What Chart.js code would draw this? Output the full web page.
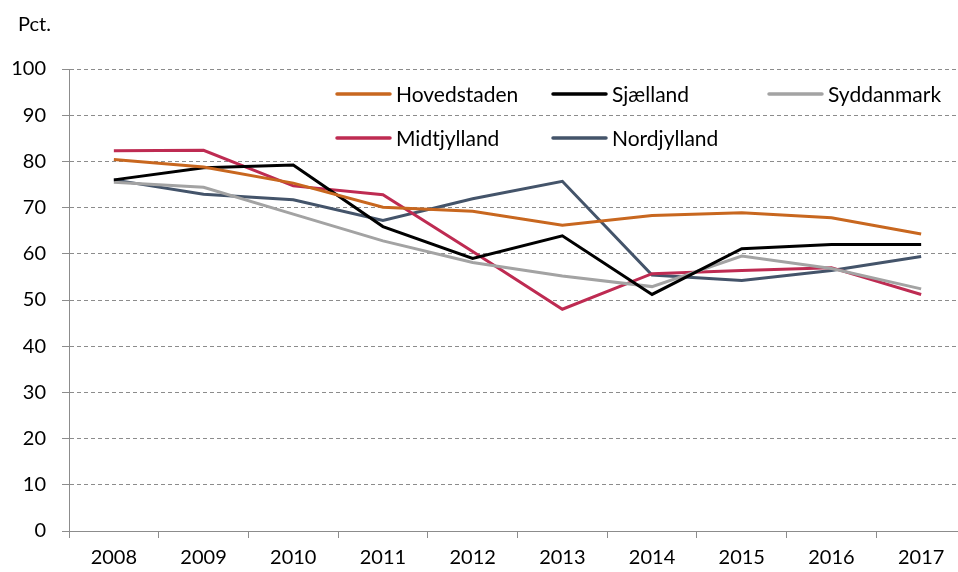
<!DOCTYPE html>
<html>
<head>
<meta charset="utf-8">
<script src="https://cdn.jsdelivr.net/npm/chart.js@4/dist/chart.umd.min.js"></script>
<style>
	html, body { margin: 0; padding: 0; background: #fff; overflow: hidden; }
	#wrap { width: 968px; height: 572px; }
</style>
</head>
<body>
<div id="wrap"><canvas id="c" width="968" height="572"></canvas></div>
<script>
// data
const years = ['2008','2009','2010','2011','2012','2013','2014','2015','2016','2017'];
const hovedstaden = [80.4, 78.8, 75.3, 70.1, 69.2, 66.2, 68.3, 68.9, 67.8, 64.3];
const sjaelland   = [76.0, 78.6, 79.2, 65.9, 59.0, 63.9, 51.2, 61.1, 62.0, 62.0];
const syddanmark  = [75.5, 74.4, 68.6, 62.8, 58.1, 55.2, 52.9, 59.5, 56.8, 52.4];
const midtjylland = [82.3, 82.4, 74.7, 72.8, 60.5, 48.0, 55.7, 56.4, 57.0, 51.2];
const nordjylland = [76.0, 72.9, 71.7, 67.2, 71.9, 75.7, 55.4, 54.2, 56.4, 59.4];
const yTicks = [0, 10, 20, 30, 40, 50, 60, 70, 80, 90, 100];

const FONT = 'Lato';
const GRID = '#8c8c8c';

function ds(label, data, color){
	return {
		label: label,
		data: data,
		borderColor: color,
		backgroundColor: color,
		borderWidth: 3,
		pointRadius: 0,
		tension: 0,
		fill: false
	};
}

// legend inside the plot, two rows of three columns
const insideLegend = {
	id: 'insideLegend',
	afterDraw(chart){
		const ctx = chart.ctx;
		const a = chart.chartArea;
		ctx.save();
		ctx.font = '21px ' + FONT;
		ctx.textBaseline = 'middle';
		ctx.textAlign = 'left';
		chart.data.datasets.forEach((d, i) => {
			const col = i % 3, row = Math.floor(i / 3);
			const x = a.left + 268 + col * 216;
			const y = a.top + 25 + row * 44;
			ctx.strokeStyle = d.borderColor;
			ctx.lineWidth = 3.5;
			ctx.lineCap = 'round';
			ctx.beginPath();
			ctx.moveTo(x, y);
			ctx.lineTo(x + 53, y);
			ctx.stroke();
			ctx.fillStyle = '#000';
			ctx.fillText(d.label, x + 59, y + 1);
		});
		// unit label
		ctx.font = '20px ' + FONT;
		ctx.fillText('Pct.', 18, 25);
		ctx.restore();
	}
};

new Chart(document.getElementById('c'), {
	type: 'line',
	data: {
		labels: years,
		datasets: [
			ds('Hovedstaden', hovedstaden, '#C8671F'),
			ds('Sjælland', sjaelland, '#000000'),
			ds('Syddanmark', syddanmark, '#A3A3A3'),
			ds('Midtjylland', midtjylland, '#BE2B52'),
			ds('Nordjylland', nordjylland, '#44546A')
		]
	},
	options: {
		responsive: false,
		animation: false,
		layout: { padding: { top: 69, right: 2, bottom: 0, left: 0 } },
		plugins: {
			legend: { display: false },
			tooltip: { enabled: false }
		},
		scales: {
			x: {
				offset: true,
				grid: { offset: true, drawOnChartArea: false, drawTicks: true, tickLength: 7, color: GRID },
				border: { color: GRID, width: 1 },
				ticks: { color: '#000', font: { family: FONT, size: 20 }, padding: 8, maxRotation: 0 },
				afterFit(s){ s.height = 41; }
			},
			y: {
				min: 0,
				max: 100,
				afterBuildTicks(s){ s.ticks = yTicks.map(v => ({ value: v })); },
				grid: { color: GRID, tickLength: 7, drawTicks: true },
				border: { color: GRID, width: 1, dash: [4, 3] },
				ticks: { color: '#000', font: { family: FONT, size: 20 }, padding: 16 },
				afterFit(s){ s.width = 69; }
			}
		}
	},
	plugins: [insideLegend]
});
</script>
</body>
</html>
